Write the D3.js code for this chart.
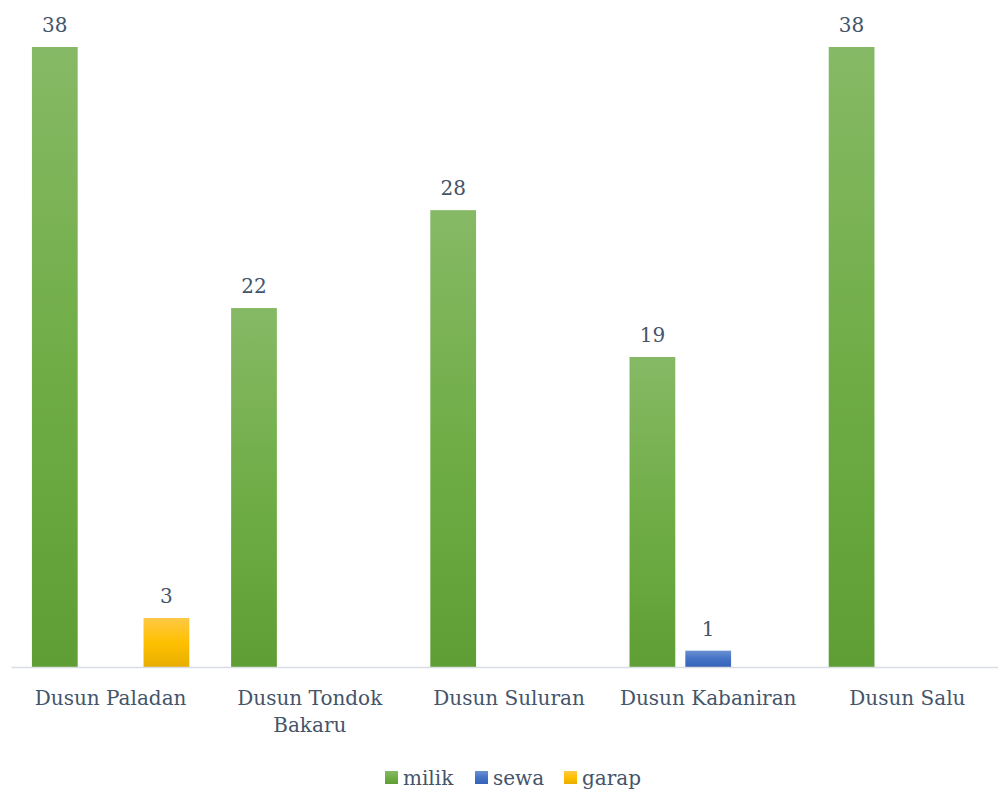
<!DOCTYPE html>
<html><head><meta charset="utf-8">
<script src="https://cdn.jsdelivr.net/npm/d3@7"></script>
<style>body{margin:0;background:#fff}svg{display:block}</style>
</head><body>
<svg id="c" width="998" height="792"></svg>
<script>
const categories = ["Dusun Paladan", "Dusun Tondok Bakaru", "Dusun Suluran", "Dusun Kabaniran", "Dusun Salu"];
const seriesNames = ["milik", "sewa", "garap"];
const milik = [38, 22, 28, 19, 38];
const sewa = [0, 0, 0, 1, 0];
const garap = [3, 0, 0, 0, 0];
const seriesValues = [milik, sewa, garap];

const FONT = "'DejaVu Serif', serif";
const FS = 20;
const TEXT = "#44546a";
const svg = d3.select("#c");
const defs = svg.append("defs");
const grads = [
  ["#86b965", "#70ad47", "#5f9e34"],
  ["#6b90d2", "#4472c4", "#3563b9"],
  ["#ffc845", "#ffc000", "#e6ae00"]
];
grads.forEach((g, i) => {
  const lg = defs.append("linearGradient").attr("id", "g" + i).attr("x1", 0).attr("y1", 0).attr("x2", 0).attr("y2", 1);
  lg.append("stop").attr("offset", "0%").attr("stop-color", g[0]);
  lg.append("stop").attr("offset", "50%").attr("stop-color", g[1]);
  lg.append("stop").attr("offset", "100%").attr("stop-color", g[2]);
});

const x0 = d3.scaleBand().domain(categories).range([11, 1007]);
const bw = x0.bandwidth();
const x1 = d3.scaleBand().domain(seriesNames).range([bw * 0.105, bw * 0.895]).paddingInner(0.18);
const y = d3.scaleLinear().domain([0, 38]).range([667, 47]);

const data = [];
categories.forEach((c, ci) => seriesNames.forEach((s, si) => {
  const v = seriesValues[si][ci];
  if (v > 0) data.push({c, s, si, v});
}));

svg.selectAll("rect.bar").data(data).join("rect").attr("class", "bar")
  .attr("x", d => x0(d.c) + x1(d.s))
  .attr("width", x1.bandwidth())
  .attr("y", d => y(d.v))
  .attr("height", d => y(0) - y(d.v))
  .attr("fill", d => `url(#g${d.si})`);

svg.selectAll("text.val").data(data).join("text").attr("class", "val")
  .attr("x", d => x0(d.c) + x1(d.s) + x1.bandwidth() / 2)
  .attr("y", d => y(d.v) - 15)
  .attr("text-anchor", "middle")
  .attr("font-family", FONT).attr("font-size", FS).attr("fill", TEXT)
  .text(d => d.v);

// axis
const ax = svg.append("g").attr("transform", `translate(0,${y(0)})`)
  .call(d3.axisBottom(x0).tickSize(0).tickFormat(""));
ax.select(".domain").attr("stroke", "#d9dde3").attr("stroke-width", 1.5);

const wrapMap = {"Dusun Tondok Bakaru": ["Dusun Tondok", "Bakaru"]};
categories.forEach(c => {
  const lines = wrapMap[c] || [c];
  const t = svg.append("text").attr("text-anchor", "middle")
    .attr("font-family", FONT).attr("font-size", FS).attr("fill", TEXT);
  lines.forEach((l, i) => t.append("tspan").attr("x", x0(c) + bw / 2).attr("y", 705 + i * 27).text(l));
});

// legend
const legX = [385, 475, 564];
seriesNames.forEach((s, i) => {
  svg.append("rect").attr("x", legX[i]).attr("y", 771).attr("width", 13).attr("height", 13).attr("fill", `url(#g${i})`);
  svg.append("text").attr("x", legX[i] + 18).attr("y", 785)
    .attr("font-family", FONT).attr("font-size", FS).attr("fill", TEXT).text(s);
});
</script>
</body></html>
